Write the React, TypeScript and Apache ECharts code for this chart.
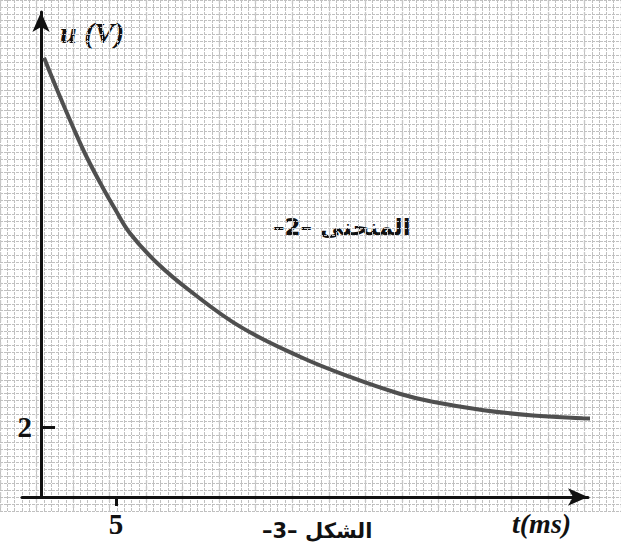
import React, { useEffect, useRef } from "react";
import * as echarts from "echarts";

// Decay of the voltage u(t) across the capacitor (curve 2)
const timeMs = [0.2, 1.2, 2.1, 3.0, 4.1, 4.9, 5.9, 7.7, 9.9, 13.3, 17.3, 20.6, 23.9, 26.1, 29.5, 32.8, 36.1, 38.1];
const voltageV = [12.55, 11.5, 10.6, 9.75, 8.85, 8.25, 7.55, 6.7, 5.9, 4.86, 4.0, 3.43, 2.95, 2.72, 2.48, 2.33, 2.25, 2.21];

// Graduations marked on the axes
const timeTicks = [5];
const voltageTicks = [2];

const curveTitle = "–2– المنحنى";
const figureTitle = "–3– الشكل";
const yAxisTitle = "u (V)";
const xAxisTitle = "t(ms)";

const serif = "Liberation Serif";
const arabic = "DejaVu Sans";

export default function App() {
  const ref = useRef<HTMLDivElement>(null);

  useEffect(() => {
    if (!ref.current) return;
    const chart = echarts.init(ref.current, null, { renderer: "svg" });

    const paperLine = { show: true, lineStyle: { color: "#c0c0c0", width: 1, type: [3, 1] } };
    const paperBold = { show: true, lineStyle: { color: "#c8c8c8", width: 1.4, type: [4, 2] } };

    const hidden = {
      axisLine: { show: false },
      axisTick: { show: false },
      axisLabel: { show: false },
    };

    chart.setOption({
      animation: false,
      backgroundColor: "#ffffff",
      grid: [
        // graph paper, fine squares
        { left: -4, right: -12.5, top: -7, bottom: 34 },
        // graph paper, coarse squares
        { left: -4, right: -12.5, top: -7, bottom: 34 },
        // plotting area
        { left: 22, right: 33, top: 12, bottom: 48 },
      ],
      xAxis: [
        { gridIndex: 0, type: "value", min: -3, max: 39.5, interval: 0.5, ...hidden, splitLine: paperLine },
        { gridIndex: 1, type: "value", min: -3, max: 39.5, interval: 2.5, ...hidden, splitLine: paperBold },
        {
          gridIndex: 2,
          type: "value",
          min: -1.27,
          max: 36.46,
          axisLine: {
            show: true,
            onZero: true,
            symbol: ["none", "arrow"],
            symbolSize: [13, 20],
            lineStyle: { color: "#111", width: 3 },
          },
          axisTick: {
            show: true,
            customValues: timeTicks,
            length: 9,
            lineStyle: { color: "#111", width: 3 },
          },
          axisLabel: {
            show: true,
            customValues: timeTicks,
            margin: 12,
            color: "#111",
            fontFamily: serif,
            fontWeight: "bold",
            fontSize: 29,
          },
          splitLine: { show: false },
        },
      ],
      yAxis: [
        { gridIndex: 0, type: "value", min: -0.4, max: 14.4, interval: 0.2, ...hidden, splitLine: paperLine },
        { gridIndex: 1, type: "value", min: -0.4, max: 14.4, interval: 0.4, ...hidden, splitLine: { show: false } },
        {
          gridIndex: 2,
          type: "value",
          min: 0,
          max: 13.857,
          axisLine: {
            show: true,
            onZero: true,
            symbol: ["none", "arrow"],
            symbolSize: [13, 20],
            lineStyle: { color: "#111", width: 3 },
          },
          axisTick: {
            show: true,
            inside: true,
            customValues: voltageTicks,
            length: 14,
            lineStyle: { color: "#111", width: 3 },
          },
          axisLabel: {
            show: true,
            customValues: voltageTicks,
            margin: -10,
            color: "#111",
            fontFamily: serif,
            fontWeight: "bold",
            fontSize: 29,
          },
          splitLine: { show: false },
        },
      ],
      series: [
        {
          type: "line",
          xAxisIndex: 2,
          yAxisIndex: 2,
          data: timeMs.map((t, i) => [t, voltageV[i]]),
          smooth: 0.4,
          showSymbol: false,
          clip: false,
          lineStyle: { color: "#4f4f4f", width: 4 },
          z: 3,
        },
      ],
      graphic: [
        {
          type: "text",
          left: 60,
          top: 17,
          style: {
            text: yAxisTitle,
            fontFamily: serif,
            fontStyle: "italic",
            fontWeight: "bold",
            fontSize: 30,
            fill: "#111",
          },
        },
        {
          type: "text",
          left: 512,
          top: 509,
          style: {
            text: xAxisTitle,
            fontFamily: serif,
            fontStyle: "italic",
            fontWeight: "bold",
            fontSize: 28,
            fill: "#111",
          },
        },
        {
          type: "text",
          left: 273,
          top: 215,
          style: {
            text: curveTitle,
            fontFamily: arabic,
            fontWeight: "bold",
            fontSize: 23,
            fill: "#111",
          },
        },
        {
          type: "text",
          left: 262,
          top: 520,
          style: {
            text: figureTitle,
            fontFamily: arabic,
            fontWeight: "bold",
            fontSize: 21,
            fill: "#111",
          },
        },
      ],
    });

    return () => chart.dispose();
  }, []);

  return (
    <div
      ref={ref}
      style={{ position: "fixed", left: 0, top: 0, width: 621, height: 545 }}
    />
  );
}
